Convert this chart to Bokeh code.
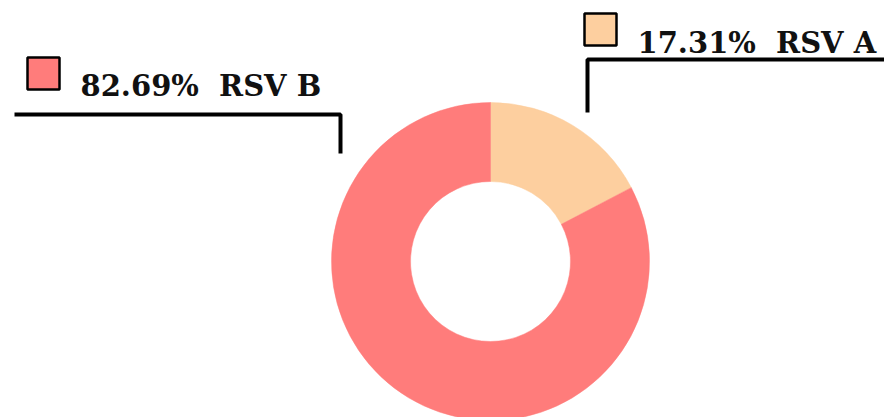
import math
from bokeh.plotting import figure
from bokeh.models import Range1d
from bokeh.core.properties import value
from bokeh.embed import file_html
from bokeh.resources import INLINE

# Data
labels = ["RSV A", "RSV B"]
shares = [17.31, 82.69]
colors = ["#FDCF9F", "#FF7C7B"]

W, H = 884, 417  # image size used for coordinates

def fy(y):
    return H - y

p = figure(width=W, height=H, output_backend="svg", toolbar_location=None,
           x_range=Range1d(0, W), y_range=Range1d(0, H),
           min_border=0)
p.axis.visible = False
p.grid.visible = False
p.outline_line_color = None
p.background_fill_color = "white"

# Donut
cx, cy = 490, fy(261)
total = sum(shares)
start = math.pi / 2
for s, c in zip(shares, colors):
    sweep = 2 * math.pi * s / total
    p.annular_wedge(x=cx, y=cy, inner_radius=80, outer_radius=159,
                    start_angle=start - sweep, end_angle=start,
                    fill_color=c, line_color=c, line_width=0.5)
    start -= sweep

# Leader lines
p.line([14, 340, 340], [fy(114), fy(114), fy(153)], line_color="black", line_width=4)
p.line([587, 587, 884], [fy(112), fy(59), fy(59)], line_color="black", line_width=4)

# Label boxes and texts
label_pos = {"RSV B": (43, 73, 80, 85), "RSV A": (600, 29, 637, 42)}
for name, s, c in zip(labels, shares, colors):
    sx, sy, tx, ty = label_pos[name]
    p.rect(x=sx, y=fy(sy), width=32, height=32, fill_color=c,
           line_color="black", line_width=2.5)
    p.text(x=[tx], y=[fy(ty)], text=[f"{s:.2f}%\u00a0 {name}"],
           text_font=value("DejaVu Serif"), text_font_style="bold",
           text_font_size="29px", text_baseline="alphabetic",
           text_align="left", text_color="#111111")

open("out.html", "w").write(file_html(p, INLINE))
